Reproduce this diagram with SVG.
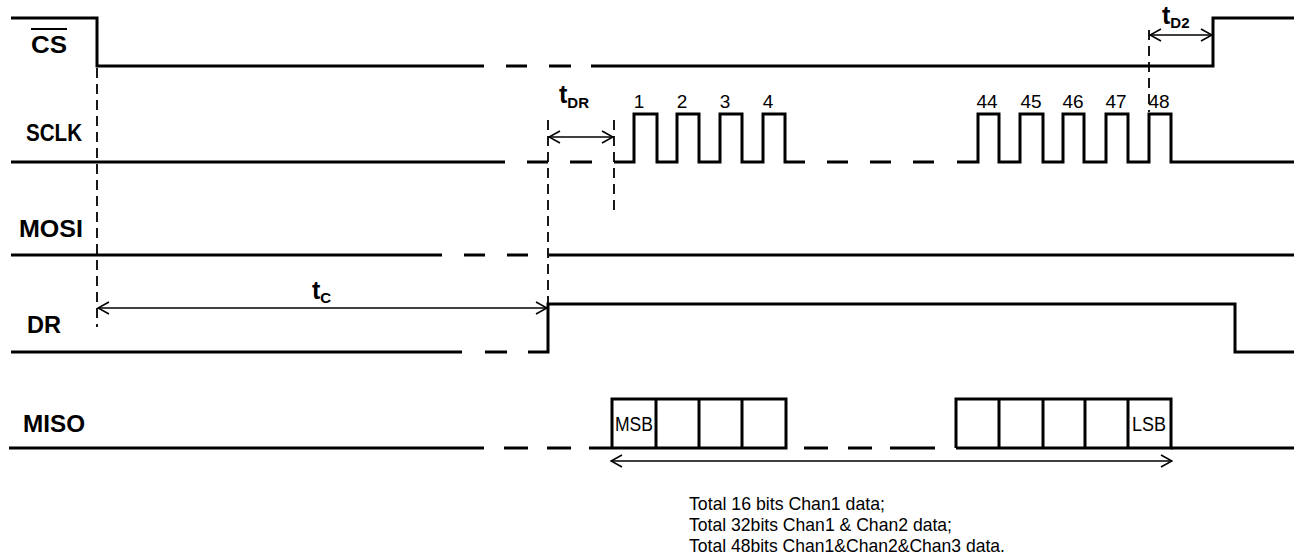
<svg xmlns="http://www.w3.org/2000/svg" width="1294" height="555" viewBox="0 0 1294 555">
<style>
.sig{fill:none;stroke:#000;stroke-width:3;stroke-linejoin:miter;stroke-linecap:butt}
.vd{fill:none;stroke:#000;stroke-width:1.8;stroke-dasharray:10,6}
.ar{fill:none;stroke:#000;stroke-width:1.6}
.lbl{font-family:"Liberation Sans",Arial,sans-serif;font-weight:bold;font-size:23px;fill:#000}
.num{font-family:"Liberation Sans",Arial,sans-serif;font-size:19px;fill:#000;text-anchor:middle}
.t{font-family:"Liberation Sans",Arial,sans-serif;font-weight:bold;font-size:25px;fill:#000}
.sub{font-family:"Liberation Sans",Arial,sans-serif;font-weight:bold;font-size:15px;fill:#000}
.note{font-family:"Liberation Sans",Arial,sans-serif;font-size:19px;fill:#000}
.bit{font-family:"Liberation Sans",Arial,sans-serif;font-size:20px;fill:#000}
</style>
<defs>
<marker id="ah" viewBox="0 0 13 14" refX="12" refY="7" markerWidth="13" markerHeight="14" markerUnits="userSpaceOnUse" orient="auto-start-reverse">
<path d="M1,1 L12,7 L1,13" fill="none" stroke="#000" stroke-width="1.6"/>
</marker>
</defs>
<rect width="1294" height="555" fill="#fff"/>

<g id="cs">
<text class="lbl" x="31" y="53" textLength="36" lengthAdjust="spacingAndGlyphs" style="font-size:24px">CS</text>
<line x1="31" y1="29" x2="67" y2="29" stroke="#000" stroke-width="2"/>
<path class="sig" d="M11,18 H97 V66 H484 M506,66 H527 M549,66 H571 M591,66 H1213 V18 H1294"/>
</g>

<g id="sclk">
<text class="lbl" x="26" y="141" textLength="56" lengthAdjust="spacingAndGlyphs">SCLK</text>
<path class="sig" d="M11,162 H505 M527,162 H548 M570,162 H592 M614,162 H634 V114 H657 V162 H677 V114 H699 V162 H720 V114 H742 V162 H763 V114 H785 V162 H805 M827,162 H848 M870,162 H891 M913,162 H934 M957,162 H978 V114 H999 V162 H1020 V114 H1043 V162 H1063 V114 H1084 V162 H1106 V114 H1128 V162 H1149 V114 H1171 V162 H1294"/>
<text class="num" x="639" y="108">1</text>
<text class="num" x="682" y="108">2</text>
<text class="num" x="725" y="108">3</text>
<text class="num" x="768" y="108">4</text>
<text class="num" x="987" y="108">44</text>
<text class="num" x="1031" y="108">45</text>
<text class="num" x="1073" y="108">46</text>
<text class="num" x="1116" y="108">47</text>
<text class="num" x="1159" y="108">48</text>
</g>

<g id="mosi">
<text class="lbl" x="19" y="237" textLength="64" lengthAdjust="spacingAndGlyphs">MOSI</text>
<path class="sig" d="M11,255 H442 M464,255 H485 M507,255 H528 M549,255 H1294"/>
</g>

<g id="dr">
<text class="lbl" x="27" y="333" textLength="34" lengthAdjust="spacingAndGlyphs">DR</text>
<path class="sig" d="M11,352 H462 M485,352 H507 M528,352 H548 V304 H1235 V352 H1294"/>
</g>

<g id="miso">
<text class="lbl" x="23" y="432" textLength="62" lengthAdjust="spacingAndGlyphs">MISO</text>
<path class="sig" d="M9,448 H484 M504,448 H528 M547,448 H571 M589,448 H612 M804,448 H828 M848,448 H872 M890,448 H935 M1171,448 H1294"/>
<path class="sig" d="M612,448 V399 H786 V448 H612 M656,399 V448 M699,399 V448 M742,399 V448"/>
<path class="sig" d="M956,448 V399 H1171 V448 H956 M999,399 V448 M1043,399 V448 M1085,399 V448 M1128,399 V448"/>
<text class="bit" x="615" y="431" textLength="38" lengthAdjust="spacingAndGlyphs">MSB</text>
<text class="bit" x="1132" y="431" textLength="34" lengthAdjust="spacingAndGlyphs">LSB</text>
</g>

<g id="connectors">
<line class="vd" x1="97" y1="68" x2="97" y2="327"/>
<line class="vd" x1="548" y1="120" x2="548" y2="304"/>
<line class="vd" x1="614" y1="120" x2="614" y2="213"/>
<line class="vd" x1="1149" y1="30" x2="1149" y2="112"/>
<line class="ar" x1="549" y1="137" x2="613" y2="137" marker-start="url(#ah)" marker-end="url(#ah)"/>
<line class="ar" x1="98" y1="308" x2="547" y2="308" marker-start="url(#ah)" marker-end="url(#ah)"/>
<line class="ar" x1="1150" y1="35" x2="1212" y2="35" marker-start="url(#ah)" marker-end="url(#ah)"/>
<line class="ar" x1="611" y1="461" x2="1172" y2="461" marker-start="url(#ah)" marker-end="url(#ah)"/>
</g>

<g id="labels">
<text x="559" y="103"><tspan class="t">t</tspan><tspan class="sub" dy="5">DR</tspan></text>
<text x="312" y="299"><tspan class="t">t</tspan><tspan class="sub" dy="4">C</tspan></text>
<text x="1162" y="24"><tspan class="t">t</tspan><tspan class="sub" dy="4">D2</tspan></text>
<text class="note" x="689" y="510" textLength="196" lengthAdjust="spacingAndGlyphs">Total 16 bits Chan1 data;</text>
<text class="note" x="689" y="531" textLength="263" lengthAdjust="spacingAndGlyphs">Total 32bits Chan1 &amp; Chan2 data;</text>
<text class="note" x="689" y="552" textLength="316" lengthAdjust="spacingAndGlyphs">Total 48bits Chan1&amp;Chan2&amp;Chan3 data.</text>
</g>
</svg>
